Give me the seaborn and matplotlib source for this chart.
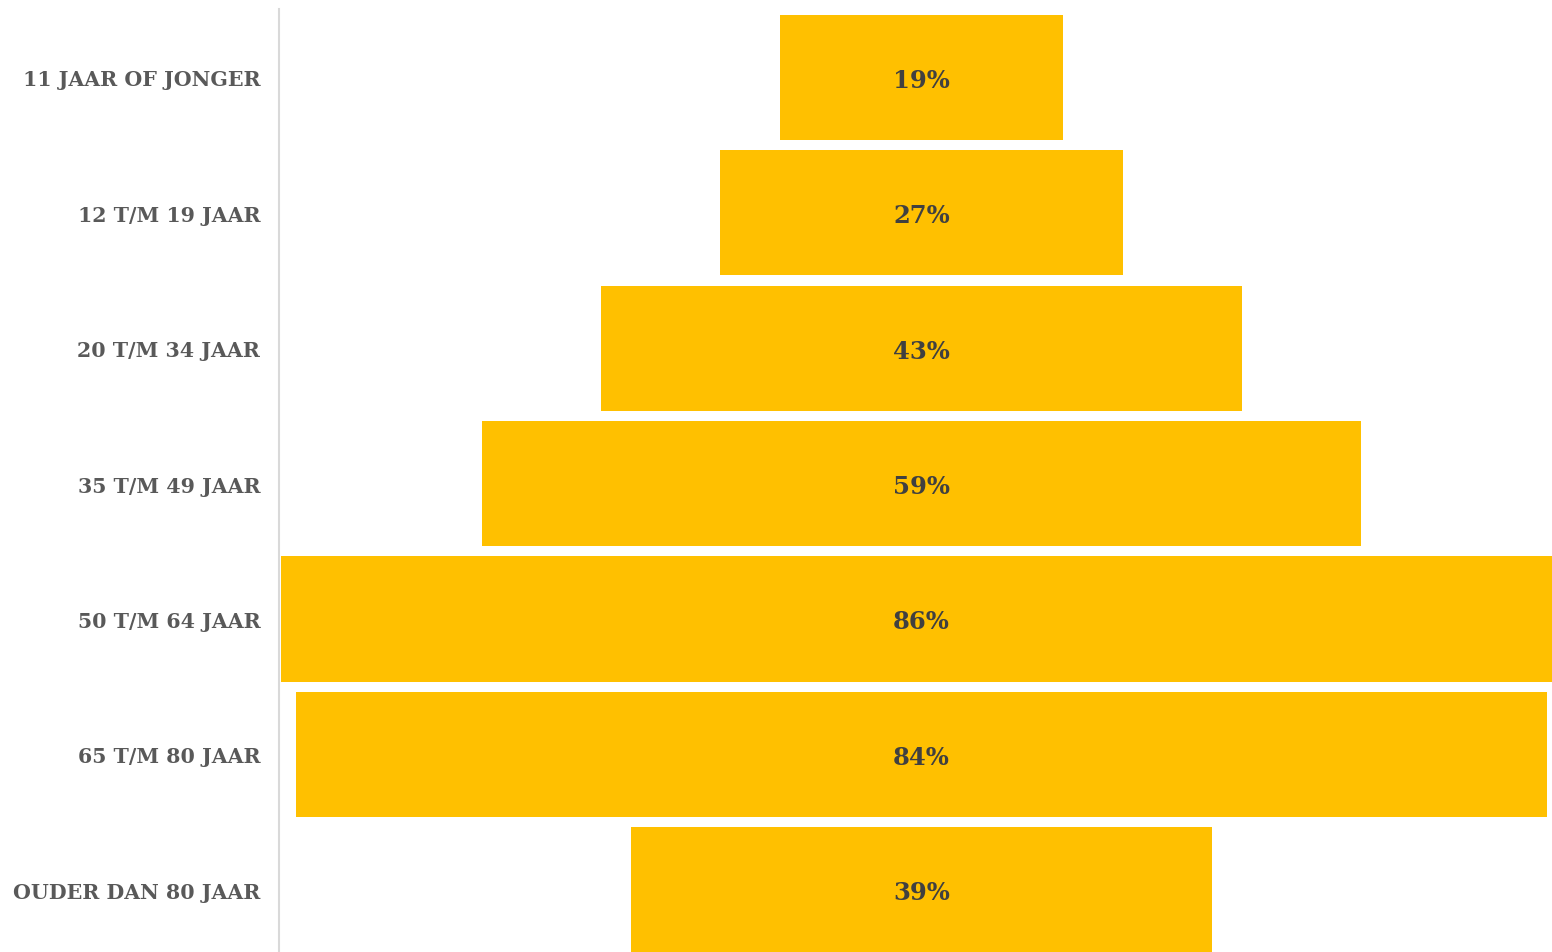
import matplotlib
matplotlib.use("Agg")
import matplotlib.pyplot as plt
import seaborn as sns
import pandas as pd

# data
categories = ["11 JAAR OF JONGER", "12 T/M 19 JAAR", "20 T/M 34 JAAR",
              "35 T/M 49 JAAR", "50 T/M 64 JAAR", "65 T/M 80 JAAR",
              "OUDER DAN 80 JAAR"]
values = [19, 27, 43, 59, 86, 84, 39]

bar_color = "#FFC000"
label_color = "#595959"
value_color = "#404040"
font = "DejaVu Serif"

df = pd.DataFrame({"Leeftijd": categories, "Pct": values})
df["half"] = df["Pct"] / 2
df["neg_half"] = -df["Pct"] / 2

sns.set_style("white")
plt.rcParams["font.family"] = [font, "DejaVu Sans"]

fig = plt.figure(figsize=(15.52, 9.53), dpi=100)
ax = fig.add_axes([279 / 1552, 0, 1 - 279 / 1552, 1 - 10 / 953])

# funnel: draw each bar as two halves around zero
for col in ["half", "neg_half"]:
    sns.barplot(data=df, x=col, y="Leeftijd", color=bar_color, width=0.925,
                saturation=1, orient="h", linewidth=0, ax=ax)

for i, v in enumerate(values):
    ax.text(0, i, f"{v}%", ha="center", va="center_baseline",
            fontsize=17.5, fontweight="bold", color=value_color, family=font)

ax.set_xlim(-43.12, 42.32)
ax.set_ylim(6.46, -0.506)
ax.set_xlabel("")
ax.set_ylabel("")
ax.set_xticks([])
ax.tick_params(axis="y", length=0, pad=13.5)
for lab in ax.get_yticklabels():
    lab.set_fontsize(14.8)
    lab.set_fontweight("bold")
    lab.set_color(label_color)
    lab.set_family(font)
    lab.set_verticalalignment("center_baseline")

for s in ["top", "right", "bottom"]:
    ax.spines[s].set_visible(False)
ax.spines["left"].set_color("#D9D9D9")
ax.spines["left"].set_linewidth(1.5)
ax.spines["left"].set_zorder(0)

fig.savefig("out.png", dpi=100)
